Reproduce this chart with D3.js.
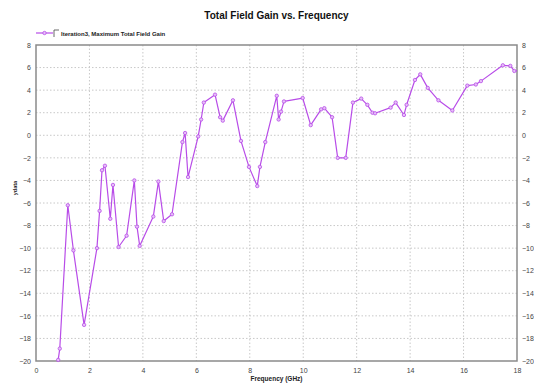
<!DOCTYPE html>
<html>
<head>
<meta charset="utf-8">
<script src="https://cdn.jsdelivr.net/npm/d3@7"></script>
<style>
  body { margin: 0; background: #fff; }
  svg text { font-family: "Liberation Sans", Arial, sans-serif; }
</style>
</head>
<body>
<svg id="chart" width="534" height="385"></svg>
<script>
// frequency points (GHz) and gain (dB)
const freq = [0.83, 0.89, 1.19, 1.40, 1.80, 2.28, 2.38, 2.47, 2.58, 2.78, 2.88, 3.09, 3.39, 3.68, 3.78, 3.88,
  4.39, 4.58, 4.78, 5.09, 5.48, 5.58, 5.69, 6.07, 6.18, 6.28, 6.70, 6.89, 6.99, 7.37, 7.67, 7.97, 8.28, 8.38,
  8.58, 9.01, 9.08, 9.17, 9.28, 9.98, 10.28, 10.67, 10.79, 11.08, 11.29, 11.59, 11.86, 12.17, 12.40, 12.59,
  12.69, 13.27, 13.46, 13.77, 13.87, 14.18, 14.38, 14.66, 15.06, 15.58, 16.14, 16.46, 16.65, 17.47, 17.75, 17.90, 18.0]
const gain = [-19.9, -18.9, -6.2, -10.2, -16.8, -10.0, -6.7, -3.1, -2.7, -7.4, -4.4, -9.9, -8.9, -4.0, -8.1, -9.8,
  -7.2, -4.1, -7.6, -7.0, -0.6, 0.2, -3.7, -0.1, 1.4, 2.9, 3.6, 1.6, 1.3, 3.1, -0.5, -2.8, -4.5, -2.8,
  -0.6, 3.5, 1.4, 2.1, 3.0, 3.3, 0.9, 2.3, 2.4, 1.6, -2.0, -2.0, 2.9, 3.25, 2.7, 2.0,
  1.95, 2.45, 2.9, 1.8, 2.7, 4.9, 5.4, 4.2, 3.1, 2.2, 4.4, 4.5, 4.8, 6.2, 6.15, 5.7, 5.7]

const xTicks = [0, 2, 4, 6, 8, 10, 12, 14, 16, 18]
const yTicks = [-20, -18, -16, -14, -12, -10, -8, -6, -4, -2, 0, 2, 4, 6, 8]

const title = 'Total Field Gain vs. Frequency'
const seriesName = 'Iteration3, Maximum Total Field Gain'

const margin = { left: 36, right: 17, top: 45, bottom: 24 }
const width = 534
const height = 385
const svg = d3.select('#chart')

const x = d3.scaleLinear().domain([0, 18]).range([margin.left, width - margin.right])
const y = d3.scaleLinear().domain([-20, 8]).range([height - margin.bottom, margin.top])

const lineColor = '#b84ce8'

// grid
const grid = svg.append('g')
grid.selectAll('line.gx')
  .data(xTicks.slice(1, -1))
  .enter().append('line')
  .attr('x1', (d) => x(d)).attr('x2', (d) => x(d))
  .attr('y1', y(8)).attr('y2', y(-20))
grid.selectAll('line.gy')
  .data(yTicks.slice(1, -1))
  .enter().append('line')
  .attr('x1', x(0)).attr('x2', x(18))
  .attr('y1', (d) => y(d)).attr('y2', (d) => y(d))
grid.selectAll('line')
  .attr('stroke', '#c8c8c8')
  .attr('stroke-width', 1)
  .attr('stroke-dasharray', '1.5,2')

// axes (labels only, the frame is drawn separately)
const fmt = d3.format('d')
const axisLeft = d3.axisLeft(y).tickValues(yTicks).tickFormat(fmt).tickSize(0).tickPadding(5)
const axisRight = d3.axisRight(y).tickValues(yTicks).tickFormat(fmt).tickSize(0).tickPadding(5)
const axisBottom = d3.axisBottom(x).tickValues(xTicks).tickFormat(fmt).tickSize(0).tickPadding(7)

const styleAxis = (g) => {
  g.select('.domain').remove()
  g.selectAll('text')
    .attr('font-size', 7)
    .attr('fill', '#444')
    .style('font-family', '"Liberation Sans Narrow", "Liberation Sans", Arial, sans-serif')
}
svg.append('g').attr('transform', `translate(${x(0)},0)`).call(axisLeft).call(styleAxis)
svg.append('g').attr('transform', `translate(${x(18)},0)`).call(axisRight).call(styleAxis)
svg.append('g').attr('transform', `translate(0,${y(-20)})`).call(axisBottom).call(styleAxis)

// frame
svg.append('rect')
  .attr('x', x(0)).attr('y', y(8))
  .attr('width', x(18) - x(0)).attr('height', y(-20) - y(8))
  .attr('fill', 'none')
  .attr('stroke', '#8a8a8a')
  .attr('stroke-width', 1.5)

// series
const data = freq.map((f, i) => ({ f, g: gain[i] }))
const line = d3.line().x((d) => x(d.f)).y((d) => y(d.g))
svg.append('path')
  .datum(data)
  .attr('d', line)
  .attr('fill', 'none')
  .attr('stroke', lineColor)
  .attr('stroke-width', 1.2)
  .attr('stroke-linejoin', 'round')
svg.append('g').selectAll('circle')
  .data(data.slice(0, -1))
  .enter().append('circle')
  .attr('cx', (d) => x(d.f))
  .attr('cy', (d) => y(d.g))
  .attr('r', 1.7)
  .attr('fill', '#e6c0f7')
  .attr('stroke', lineColor)
  .attr('stroke-width', 0.8)

// title
svg.append('text')
  .attr('x', (x(0) + x(18)) / 2).attr('y', 19)
  .attr('text-anchor', 'middle')
  .attr('font-size', 10)
  .attr('font-weight', 'bold')
  .attr('fill', '#111')
  .text(title)

// legend
const legend = svg.append('g').attr('transform', 'translate(36,33)')
legend.append('line')
  .attr('x1', 0).attr('x2', 17).attr('y1', 0).attr('y2', 0)
  .attr('stroke', lineColor).attr('stroke-width', 1.2)
legend.append('circle')
  .attr('cx', 8.5).attr('cy', 0).attr('r', 1.7)
  .attr('fill', '#e6c0f7').attr('stroke', lineColor).attr('stroke-width', 0.8)
legend.append('path')
  .attr('d', 'M18,4 V-3 H23')
  .attr('fill', 'none').attr('stroke', '#444').attr('stroke-width', 0.8)
legend.append('text')
  .attr('x', 25).attr('y', 2.5)
  .attr('font-size', 6)
  .attr('font-weight', 'bold')
  .attr('fill', '#222')
  .text(seriesName)

// axis titles
svg.append('text')
  .attr('x', (x(0) + x(18)) / 2).attr('y', 381)
  .attr('text-anchor', 'middle')
  .attr('font-size', 6.5)
  .attr('font-weight', 'bold')
  .attr('fill', '#222')
  .text('Frequency (GHz)')
svg.append('text')
  .attr('transform', 'translate(17,188) rotate(-90)')
  .attr('text-anchor', 'middle')
  .attr('font-size', 5.5)
  .attr('font-weight', 'bold')
  .attr('fill', '#222')
  .text('ydata')
</script>
</body>
</html>
